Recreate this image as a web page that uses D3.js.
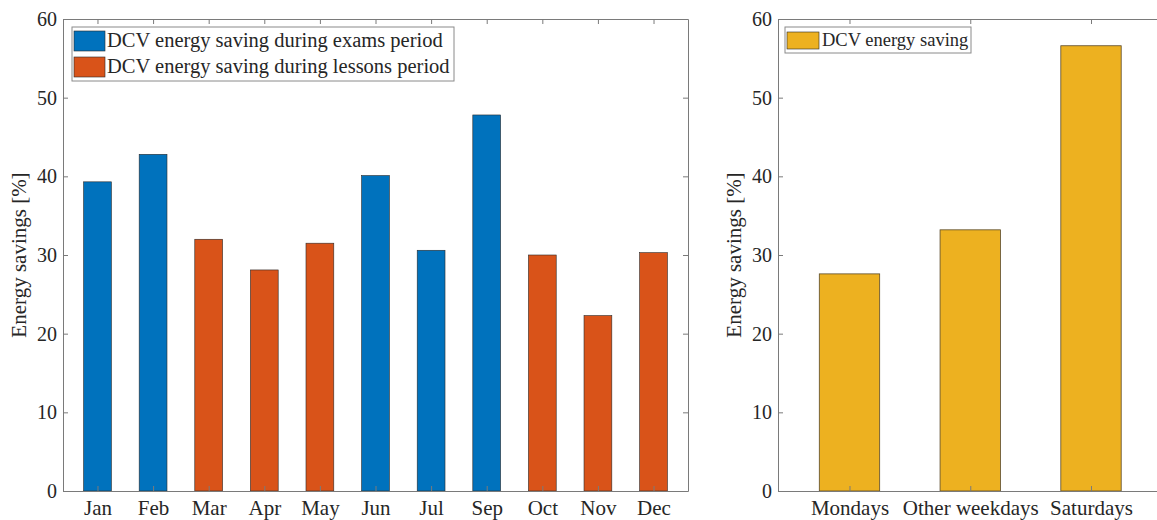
<!DOCTYPE html>
<html>
<head>
<meta charset="utf-8">
<script src="https://cdn.jsdelivr.net/npm/d3@7"></script>
<style>
  body { margin: 0; background: #fff; }
  svg { display: block; }
  text { font-family: "Liberation Serif", "DejaVu Serif", serif; fill: #262626; }
  .axis path, .axis line { stroke: #7a7a7a; }
  .axis text { font-family: "Liberation Serif", serif; fill: #262626; }
  .xaxis text { font-size: 21px; }
  .yaxis text { font-size: 20px; }
</style>
</head>
<body>
<svg id="chart" width="1157" height="520"></svg>
<script>
// left panel data
var months = ["Jan", "Feb", "Mar", "Apr", "May", "Jun", "Jul", "Sep", "Oct", "Nov", "Dec"];
var monthSavings = [39.3, 42.8, 32.0, 28.1, 31.5, 40.1, 30.6, 47.8, 30.0, 22.3, 30.3];
var monthPeriod = ["exams", "exams", "lessons", "lessons", "lessons", "exams", "exams", "exams", "lessons", "lessons", "lessons"];
var periodNames = ["exams", "lessons"];
var periodLabels = ["DCV energy saving during exams period", "DCV energy saving during lessons period"];

// right panel data
var dayTypes = ["Mondays", "Other weekdays", "Saturdays"];
var daySavings = [27.6, 33.2, 56.6];
var dayLabel = "DCV energy saving";

var yTicks = [0, 10, 20, 30, 40, 50, 60];

var colors = { exams: "#0072BD", lessons: "#D95319", days: "#EDB120" };

var svg = d3.select("#chart");

var top0 = 19, bottom0 = 491;

function drawFrame(g, x, y, ticks, labels, left, right) {
  g.append("g")
    .attr("class", "axis xaxis")
    .attr("transform", "translate(0," + bottom0 + ")")
    .call(d3.axisBottom(x).tickValues(ticks).tickFormat(function (d, i) { return labels[i]; })
      .tickSizeInner(-5).tickSizeOuter(0).tickPadding(9));
  g.append("g")
    .attr("class", "axis")
    .attr("transform", "translate(0," + top0 + ")")
    .call(d3.axisTop(x).tickValues(ticks).tickFormat("").tickSizeInner(-5).tickSizeOuter(0));
  g.append("g")
    .attr("class", "axis yaxis")
    .attr("transform", "translate(" + left + ",0)")
    .call(d3.axisLeft(y).tickValues(yTicks).tickSizeInner(-5).tickSizeOuter(0).tickPadding(6));
  g.append("g")
    .attr("class", "axis")
    .attr("transform", "translate(" + right + ",0)")
    .call(d3.axisRight(y).tickValues(yTicks).tickFormat("").tickSizeInner(-5).tickSizeOuter(0));
}

// ---- left panel ----
var x1 = d3.scaleLinear().domain([0.38, 11.62]).range([63, 688]);
var y1 = d3.scaleLinear().domain([0, 60]).range([bottom0, top0]);
var g1 = svg.append("g");

g1.selectAll("rect.bar")
  .data(monthSavings)
  .enter()
  .append("rect")
  .attr("class", "bar")
  .attr("x", function (d, i) { return x1(i + 1 - 0.25); })
  .attr("width", function () { return x1(1.25) - x1(0.75); })
  .attr("y", function (d) { return y1(d); })
  .attr("height", function (d) { return y1(0) - y1(d); })
  .attr("fill", function (d, i) { return colors[monthPeriod[i]]; })
  .attr("stroke", "#2a2a2a")
  .attr("stroke-width", 0.6);

drawFrame(g1, x1, y1, d3.range(1, months.length + 1), months, 63, 688);

g1.append("text")
  .attr("transform", "translate(26," + (top0 + bottom0) / 2 + ") rotate(-90)")
  .attr("text-anchor", "middle")
  .attr("font-size", "21px")
  .text("Energy savings [%]");

// legend left
var leg1 = g1.append("g");
leg1.append("rect")
  .attr("x", 72).attr("y", 27).attr("width", 382).attr("height", 54)
  .attr("fill", "#fff").attr("stroke", "#8a8a8a").attr("stroke-width", 1);
periodNames.forEach(function (p, i) {
  leg1.append("rect")
    .attr("x", 74).attr("y", 31 + i * 26).attr("width", 31).attr("height", 20)
    .attr("fill", colors[p]).attr("stroke", "#2a2a2a").attr("stroke-width", 0.6);
  leg1.append("text")
    .attr("x", 107).attr("y", 47 + i * 26)
    .attr("font-size", "20.5px")
    .text(periodLabels[i]);
});

// ---- right panel ----
var x2 = d3.scaleLinear().domain([0.408, 3.592]).range([778, 1162.5]);
var y2 = d3.scaleLinear().domain([0, 60]).range([bottom0, top0]);
var g2 = svg.append("g");

g2.selectAll("rect.bar")
  .data(daySavings)
  .enter()
  .append("rect")
  .attr("class", "bar")
  .attr("x", function (d, i) { return x2(i + 1 - 0.25); })
  .attr("width", function () { return x2(1.25) - x2(0.75); })
  .attr("y", function (d) { return y2(d); })
  .attr("height", function (d) { return y2(0) - y2(d); })
  .attr("fill", colors.days)
  .attr("stroke", "#5a4a2a")
  .attr("stroke-width", 0.8);

drawFrame(g2, x2, y2, [1, 2, 3], dayTypes, 778, 1162.5);

g2.append("text")
  .attr("transform", "translate(741," + (top0 + bottom0) / 2 + ") rotate(-90)")
  .attr("text-anchor", "middle")
  .attr("font-size", "21px")
  .text("Energy savings [%]");

var leg2 = g2.append("g");
leg2.append("rect")
  .attr("x", 785).attr("y", 27).attr("width", 186).attr("height", 26)
  .attr("fill", "#fff").attr("stroke", "#8a8a8a").attr("stroke-width", 1);
leg2.append("rect")
  .attr("x", 787).attr("y", 32).attr("width", 32).attr("height", 17)
  .attr("fill", colors.days).attr("stroke", "#2a2a2a").attr("stroke-width", 0.6);
leg2.append("text")
  .attr("x", 822).attr("y", 46)
  .attr("font-size", "18.5px")
  .text(dayLabel);
</script>
</body>
</html>
